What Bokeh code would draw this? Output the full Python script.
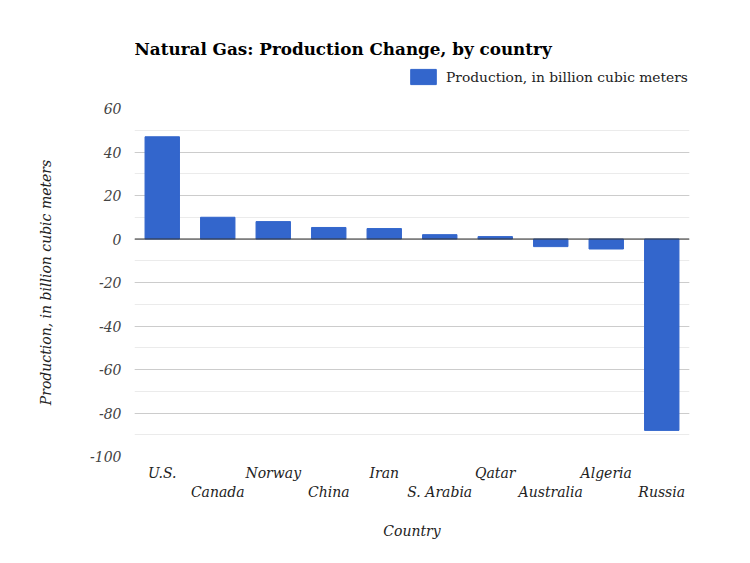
from bokeh.plotting import figure
from bokeh.layouts import column
from bokeh.models import (FactorRange, Range1d, ColumnDataSource, Span, Legend, LegendItem,
                          SingleIntervalTicker, CategoricalAxis, CustomJSTickFormatter, Label)
from bokeh.embed import file_html
from bokeh.resources import INLINE

countries = ["U.S.", "Canada", "Norway", "China", "Iran", "S. Arabia", "Qatar",
             "Australia", "Algeria", "Russia"]
production_change = [47, 10, 8, 5.3, 4.8, 2, 1.1, -3.5, -4.6, -88]
title_text = "Natural Gas: Production Change, by country"
series_name = "Production, in billion cubic meters"
x_title = "Country"
y_title = "Production, in billion cubic meters"

FONT = "DejaVu Serif"
BAR = "#3366cc"

src = ColumnDataSource(dict(country=countries, value=production_change))

# ---------- header (title + legend); its frame aligns with the main frame ----------
h = figure(width=734, height=100, x_range=FactorRange(*countries, range_padding=0),
           y_range=Range1d(1000, 1001),
           output_backend="svg", toolbar_location=None,
           min_border_left=0, min_border_right=0, min_border_top=0, min_border_bottom=0)
h.axis.visible = False
h.grid.visible = False
h.outline_line_color = None
proxy = h.vbar(x="country", top="value", bottom=0, width=0.62, source=src,
               fill_color=BAR, line_color=BAR)

h.add_layout(Label(x=0, y=52, x_units="screen", y_units="screen", text=title_text,
                   text_font=FONT, text_font_size="16.8px", text_font_style="bold",
                   text_color="#000000", text_baseline="middle", text_align="left"))

legend = Legend(items=[LegendItem(label=series_name, renderers=[proxy])],
                location=(273, 14), orientation="horizontal",
                glyph_width=32, glyph_height=19, label_height=19, label_standoff=7,
                padding=0, margin=0, border_line_color=None, background_fill_alpha=0,
                label_text_font=FONT, label_text_font_size="13.8px", label_text_color="#222222")
h.add_layout(legend, "center")

# ---------- main chart ----------
p = figure(width=734, height=447, x_range=FactorRange(*countries, range_padding=0),
           y_range=Range1d(-100, 60), output_backend="svg", toolbar_location=None,
           min_border_left=134, min_border_right=45, min_border_top=8, min_border_bottom=91)
p.outline_line_color = None

p.vbar(x="country", top="value", bottom=0, width=0.62, source=src,
       fill_color=BAR, line_color=BAR)

# y axis
p.yaxis.ticker = SingleIntervalTicker(interval=20, num_minor_ticks=2)
p.yaxis.formatter = CustomJSTickFormatter(code="return String(tick)")
p.yaxis.axis_line_color = None
p.yaxis.major_tick_line_color = None
p.yaxis.minor_tick_line_color = None
p.yaxis.major_tick_out = 0
p.yaxis.minor_tick_out = 0
p.yaxis.major_label_standoff = 13
p.yaxis.major_label_text_font = FONT
p.yaxis.major_label_text_font_style = "italic"
p.yaxis.major_label_text_font_size = "14px"
p.yaxis.major_label_text_color = "#444444"
p.yaxis.axis_label = y_title
p.yaxis.axis_label_text_font = FONT
p.yaxis.axis_label_text_font_style = "italic"
p.yaxis.axis_label_text_font_size = "14px"
p.yaxis.axis_label_text_color = "#222222"
p.yaxis.axis_label_standoff = 33

# x axis: staggered labels using two axes
def style_xaxis(ax, standoff):
    ax.axis_line_color = None
    ax.major_tick_line_color = None
    ax.minor_tick_line_color = None
    ax.major_tick_out = 0
    ax.major_tick_in = 0
    ax.minor_tick_out = 0
    ax.major_label_standoff = standoff
    ax.major_label_text_font = FONT
    ax.major_label_text_font_style = "italic"
    ax.major_label_text_font_size = "14px"
    ax.major_label_text_color = "#222222"

x1 = p.xaxis[0]
style_xaxis(x1, 8)
x1.formatter = CustomJSTickFormatter(code="return (index % 2 == 0) ? tick : ' '")

x2 = CategoricalAxis()
style_xaxis(x2, 0)
x2.formatter = CustomJSTickFormatter(code="return (index % 2 == 1) ? tick : ' '")
x2.axis_label = x_title
x2.axis_label_text_font = FONT
x2.axis_label_text_font_style = "italic"
x2.axis_label_text_font_size = "14px"
x2.axis_label_text_color = "#222222"
x2.axis_label_standoff = 20
p.add_layout(x2, "below")

# grids
p.xgrid.grid_line_color = None
p.ygrid.grid_line_color = "#cccccc"
p.ygrid.minor_grid_line_color = "#ebebeb"

p.add_layout(Span(location=0, dimension="width", line_color="#333333", line_width=1.2))

layout = column(h, p, spacing=0)
open("out.html", "w").write(file_html(layout, INLINE))
